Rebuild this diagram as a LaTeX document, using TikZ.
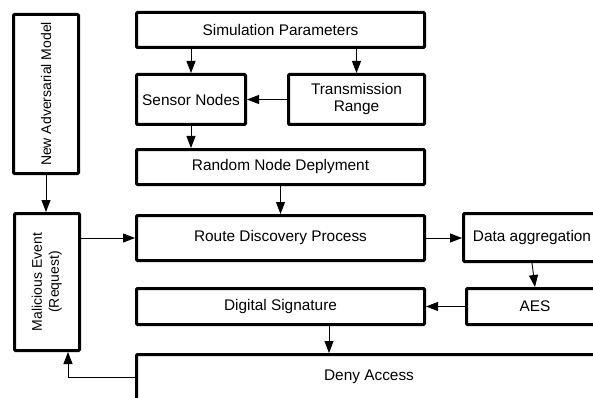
\documentclass[tikz,border=0pt]{standalone}
\usepackage{fontspec}
\setmainfont{Liberation Sans}
\usetikzlibrary{arrows.meta}
\begin{document}
\begin{tikzpicture}[x=1pt,y=-1pt,
  box/.style={draw,line width=3pt,rounded corners=1pt,inner sep=0pt,align=center,
    font=\fontsize{15.4}{17}\selectfont},
  vbox/.style={box,font=\fontsize{14}{17}\selectfont},
  arr/.style={line width=0.9pt,-{Triangle[length=12pt,width=9pt]}},
  ln/.style={line width=0.9pt}]
\clip (0,0) rectangle (593,398);
\fill[white] (0,0) rectangle (593,398);
\node[vbox,minimum width=65pt,minimum height=159pt] (adv) at (46,94) {\rotatebox{90}{New Adversarial Model}};
\node[box,minimum width=288pt,minimum height=35pt] (sim) at (280.5,30) {Simulation Parameters};
\node[box,minimum width=109pt,minimum height=50pt] (sensor) at (191,99.5) {Sensor Nodes};
\node[box,minimum width=136pt,minimum height=50pt] (trans) at (356.5,99.5) {Transmission\\Range};
\node[box,minimum width=288pt,minimum height=35pt] (rand) at (280.5,167) {Random Node Deplyment};
\node[vbox,minimum width=65pt,minimum height=137pt] (mal) at (47,282) {\rotatebox{90}{\begin{tabular}{@{}c@{}}Malicious Event\\(Request)\end{tabular}}};
\node[box,minimum width=288pt,minimum height=45pt] (route) at (280.5,238) {Route Discovery Process};
\node[box,minimum width=137pt,minimum height=48pt] (data) at (532,237.5) {Data aggregation};
\node[box,minimum width=137pt,minimum height=36pt] (aes) at (535,306.5) {AES};
\node[box,minimum width=288pt,minimum height=36pt] (dig) at (280.5,306.5) {Digital Signature};
\node[box,minimum width=465pt,minimum height=45pt] (deny) at (369,377) {Deny Access};

\draw[arr] (sim.south -| sensor.north) -- (sensor.north);
\draw[arr] (sim.south -| trans.north) -- (trans.north);
\draw[arr] (trans.west) -- (sensor.east);
\draw[arr] (sensor.south) -- (rand.north -| sensor.south);
\draw[arr] (rand.south) -- (route.north);
\draw[arr] (adv.south) -- (mal.north -| adv.south);
\draw[arr] (mal.east |- route.west) -- (route.west);
\draw[arr] (route.east) -- (route.east -| data.west);
\draw[arr] (data.south) -- (aes.north);
\draw[arr] (aes.west) -- (dig.east);
\draw[arr] ([xshift=48.5pt]dig.south) -- ([xshift=48.5pt]dig.south |- deny.north);
\draw[arr] (deny.west) -| ([xshift=21pt]mal.south);
\end{tikzpicture}
\end{document}
